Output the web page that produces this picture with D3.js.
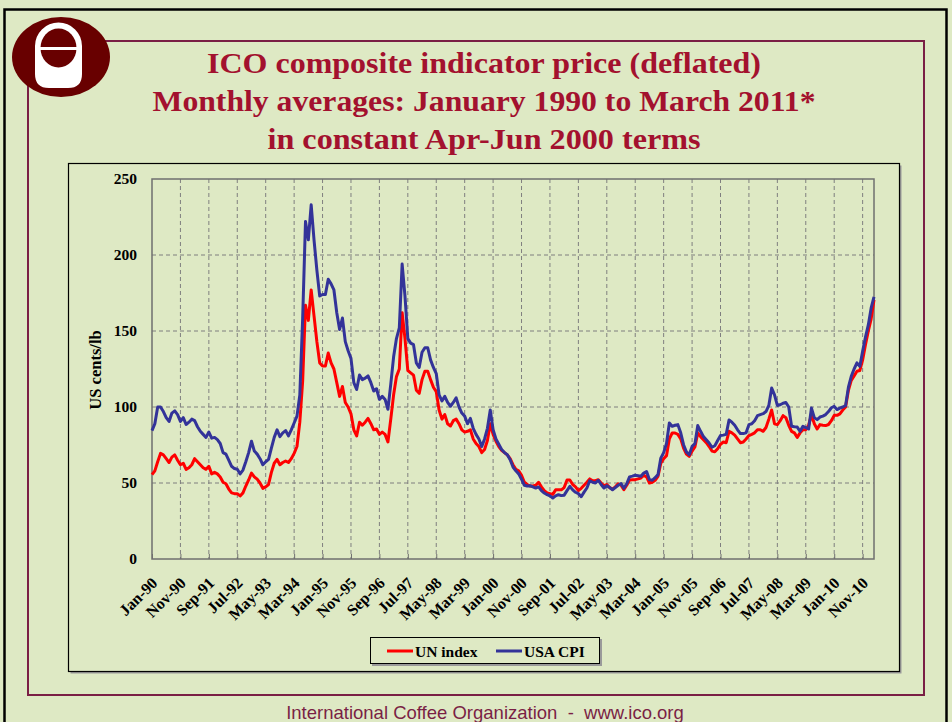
<!DOCTYPE html>
<html lang="en">
<head>
<meta charset="utf-8">
<title>ICO composite indicator price (deflated)</title>
<script src="https://cdn.jsdelivr.net/npm/d3@7"></script>
<style>
  body { margin: 0; background: #dee9c4; }
  svg { display: block; }
</style>
</head>
<body>
<script>
// monthly values, Jan-90 .. Mar-11
var unIndex = [
  55.5, 58, 64, 69.5, 68.5, 66, 63.5, 67, 68.5, 65, 62, 63,
  59, 60, 62, 66, 64, 62, 60, 59, 61, 56, 57, 56,
  54, 50.5, 49.5, 46, 43.5, 43, 43, 41.5, 43.5, 48, 52, 56.5,
  54, 52.5, 50, 46.5, 47.5, 49, 57, 63, 65.5, 62, 63.5, 64.5,
  63.5, 66, 69.5, 74, 90, 117, 167, 157, 177, 160, 143, 129,
  127, 127, 135.5, 129, 125, 116, 107, 113.5, 103, 100, 95.5, 85,
  81, 90, 88, 90, 92.5, 89, 85, 85.5, 82, 83.5, 82, 77,
  92, 108, 120, 125, 162, 145, 124, 122.5, 121, 111, 109, 118,
  123.5, 123.5, 118, 113, 110, 98, 92, 95, 89, 87.5, 91, 92,
  89, 85, 83.5, 84, 85, 79, 76, 74, 70, 72, 78, 89,
  82, 77.5, 74, 71.5, 70, 68.5, 66, 62, 59, 58, 55, 50.5,
  49, 48, 48, 48.5, 50.5, 47.5, 45, 43.5, 43, 42.5, 45.5, 45.5,
  45.5, 47, 52, 52, 49, 47.5, 45, 46.5, 48.5, 50.5, 52.7, 51.5,
  51.5, 52.2, 50, 48.2, 49, 47, 46, 47.5, 49.5, 48.5, 45.6, 48.5,
  52, 52.2, 52.2, 52.7, 53.3, 55, 54, 50, 50.5, 51.8, 54.4, 63,
  66, 68, 79, 82.9, 82.9, 82, 79, 73, 69, 67.5, 71, 73.7,
  83, 80.5, 78.5, 76.5, 74, 71, 70.5, 72.5, 75.5, 77, 76.5, 84,
  83, 81.5, 79, 76.5, 77, 79, 81.2, 82, 83, 85, 85, 84,
  86.5, 92, 98, 89, 88.4, 91, 94.3, 93, 88, 84, 83, 80,
  83, 85, 85, 88, 95, 89, 85.5, 88.4, 88, 87.8, 88.5, 91,
  94.5, 94.5, 95.5, 98, 100, 111, 117.5, 120.5, 123.5, 124, 131, 141,
  150, 158, 170.6
];

var usaCpi = [
  84.5, 89, 100, 100, 97, 93, 90.5, 96, 97.5, 95, 90.5, 93,
  88.5, 90, 92, 91, 87, 84, 82, 80, 83.5, 79.5, 80, 78.5,
  76, 70, 69, 65, 61, 59.5, 59, 56, 58.5, 64, 70, 77.5,
  71, 69, 66, 62, 64, 65.5, 73, 80, 85, 80.5, 83, 84.5,
  81, 85, 89.5, 94, 108, 158, 222, 210, 233, 210, 190, 173,
  174, 174, 184, 181, 177, 162, 151, 158.5, 143, 137, 132, 116,
  111.5, 121, 118, 119, 120.5, 116, 110.5, 112, 105, 107, 105, 98.5,
  115, 133, 145, 152, 194, 173, 145, 142, 141, 129, 126, 136,
  139, 139, 131, 126, 122, 108, 104, 107, 103, 100.5, 103, 106,
  100, 96, 94, 89, 92.5, 86, 82, 79, 74, 79, 86, 98,
  85, 79, 75.5, 72, 70, 68.6, 65.3, 60.5, 58, 56, 52.5, 48.5,
  48, 48.2, 47.5, 46.7, 47.4, 45, 43.4, 42.3, 41.5, 40.1, 41.5, 42.3,
  41.7, 42, 45, 47.8, 45.5, 43.9, 43, 41, 44, 46.7, 51.5, 50.5,
  50, 51.8, 49, 46.7, 48.2, 47, 45.6, 47, 48.5, 49.6, 46.5, 49.5,
  54, 54.5, 55.1, 54.8, 54.4, 56.5, 57.5, 52.2, 51.8, 53.5, 55.5, 66.4,
  70, 76, 89.5, 87.3, 88, 88.4, 83, 75.2, 70.5, 68.6, 74.1, 75.9,
  87.8, 84, 80.5, 78.5, 76.3, 73.5, 74.5, 78, 81.2, 81.5, 82, 91.5,
  90, 88, 85, 82.5, 82.5, 83, 88.4, 89, 91, 94.3, 95, 95.6,
  97, 101, 112.5, 108, 101, 101.5, 102.5, 103, 100, 87.3, 87, 86.8,
  84, 87.3, 86.5, 85.5, 99.3, 93, 91.7, 93.4, 94, 95, 97, 99.5,
  100.4, 98.3, 99.3, 100, 100.9, 113, 120.2, 125, 129, 126.7, 136.6, 146,
  154, 165.2, 172.4
];

var monthNames = ["Jan", "Feb", "Mar", "Apr", "May", "Jun", "Jul", "Aug", "Sep", "Oct", "Nov", "Dec"];
var tickLabels = ["Jan-90", "Nov-90", "Sep-91", "Jul-92", "May-93", "Mar-94", "Jan-95", "Nov-95",
  "Sep-96", "Jul-97", "May-98", "Mar-99", "Jan-00", "Nov-00", "Sep-01", "Jul-02", "May-03",
  "Mar-04", "Jan-05", "Nov-05", "Sep-06", "Jul-07", "May-08", "Mar-09", "Jan-10", "Nov-10"];
var yTicks = [0, 50, 100, 150, 200, 250];
var titleLines = ["ICO composite indicator price (deflated)",
  "Monthly averages: January 1990 to March 2011*",
  "in constant Apr-Jun 2000 terms"];
var seriesNames = ["UN index", "USA CPI"];
var seriesColors = ["#ff0000", "#333399"];

// category labels Jan-90 .. Mar-11
var months = [];
for (var i = 0; i < unIndex.length; i++) {
  var yr = (90 + Math.floor(i / 12)) % 100;
  months.push(monthNames[i % 12] + "-" + (yr < 10 ? "0" + yr : yr));
}

var bg = "#dee9c4";
var maroon = "#7a1f45";
var titleRed = "#a3112e";
var serif = "Liberation Serif, Times New Roman, serif";

var svg = d3.select("body").append("svg")
  .attr("width", 952)
  .attr("height", 722);

svg.append("rect").attr("width", 952).attr("height", 722).attr("fill", bg);

// outer black frame
svg.append("rect")
  .attr("x", 4.5).attr("y", 9.5).attr("width", 942).attr("height", 730)
  .attr("fill", "none").attr("stroke", "#000").attr("stroke-width", 2.5);

// maroon frame
svg.append("rect")
  .attr("x", 28).attr("y", 41).attr("width", 896).attr("height", 654)
  .attr("fill", "none").attr("stroke", maroon).attr("stroke-width", 2);

// logo
var logo = svg.append("g");
logo.append("ellipse").attr("cx", 61).attr("cy", 57).attr("rx", 49).attr("ry", 40).attr("fill", "#680000");
logo.append("path")
  .attr("d", "M35,46 A23.5,23.5 0 0 1 82,46 L82,74 Q82,88 68,88 L49,88 Q35,88 35,74 Z")
  .attr("fill", "#fff");
logo.append("ellipse").attr("cx", 58.5).attr("cy", 48).attr("rx", 18).attr("ry", 19.5).attr("fill", "#680000");
logo.append("rect").attr("x", 40).attr("y", 47).attr("width", 37).attr("height", 3).attr("fill", "#fff");

// title
var titleLens = [554, 663, 433];
svg.append("g").selectAll("text")
  .data(titleLines)
  .enter().append("text")
  .attr("x", 484)
  .attr("y", function(d, i) { return 73 + i * 38; })
  .attr("text-anchor", "middle")
  .attr("textLength", function(d, i) { return titleLens[i]; })
  .attr("lengthAdjust", "spacingAndGlyphs")
  .attr("font-family", serif)
  .attr("font-weight", "bold")
  .attr("font-size", 30)
  .attr("fill", titleRed)
  .text(function(d) { return d; });

// chart area box with shadow
svg.append("rect")
  .attr("x", 70.5).attr("y", 165.5).attr("width", 831).attr("height", 508)
  .attr("fill", "#9a9a9a");
svg.append("rect")
  .attr("x", 68.5).attr("y", 163.5).attr("width", 831).attr("height", 508)
  .attr("fill", bg).attr("stroke", "#000").attr("stroke-width", 1.2);

// plot area
var plotLeft = 152, plotRight = 874, plotTop = 179, plotBottom = 559;

var x = d3.scalePoint().domain(months).range([plotLeft, plotRight]);
var y = d3.scaleLinear().domain([0, 250]).range([plotBottom, plotTop]);

// horizontal gridlines
svg.append("g").selectAll("line")
  .data(yTicks.filter(function(d) { return d > 0 && d < 250; }))
  .enter().append("line")
  .attr("x1", plotLeft).attr("x2", plotRight)
  .attr("y1", function(d) { return y(d); }).attr("y2", function(d) { return y(d); })
  .attr("stroke", "#7f7f7f").attr("stroke-width", 1).attr("stroke-dasharray", "4,3");

// vertical gridlines at the labelled months
svg.append("g").selectAll("line")
  .data(tickLabels.slice(1))
  .enter().append("line")
  .attr("x1", function(d) { return x(d); }).attr("x2", function(d) { return x(d); })
  .attr("y1", plotTop).attr("y2", plotBottom)
  .attr("stroke", "#7f7f7f").attr("stroke-width", 1).attr("stroke-dasharray", "4,3");

// plot border
svg.append("rect")
  .attr("x", plotLeft).attr("y", plotTop)
  .attr("width", plotRight - plotLeft).attr("height", plotBottom - plotTop)
  .attr("fill", "none").attr("stroke", "#6f6f6f").attr("stroke-width", 1.5);

// y axis labels
var yAxis = d3.axisLeft(y).tickValues(yTicks).tickSize(0).tickPadding(15);
var gy = svg.append("g").attr("transform", "translate(" + plotLeft + ",0)").call(yAxis);
gy.select(".domain").remove();
gy.selectAll("text")
  .attr("font-family", serif)
  .attr("font-weight", "bold")
  .attr("font-size", 15.5)
  .attr("fill", "#000");

// x axis labels
var xAxis = d3.axisBottom(x).tickValues(tickLabels).tickSize(5);
var gx = svg.append("g").attr("transform", "translate(0," + plotBottom + ")").call(xAxis);
gx.select(".domain").remove();
gx.selectAll(".tick line").attr("y2", -5).attr("stroke", "#6f6f6f");
gx.selectAll("text")
  .attr("font-family", serif)
  .attr("font-weight", "bold")
  .attr("font-size", 16)
  .attr("fill", "#000")
  .attr("text-anchor", "end")
  .attr("dy", null)
  .attr("y", null)
  .attr("transform", "translate(6,25) rotate(-45)");

// y axis title
svg.append("text")
  .attr("transform", "translate(101,370) rotate(-90)")
  .attr("text-anchor", "middle")
  .attr("font-family", serif)
  .attr("font-weight", "bold")
  .attr("font-size", 16.5)
  .text("US cents/lb");

// lines
var line = d3.line()
  .x(function(d, i) { return x(months[i]); })
  .y(function(d) { return y(d); });

[unIndex, usaCpi].forEach(function(s, k) {
  svg.append("path")
    .datum(s)
    .attr("d", line)
    .attr("fill", "none")
    .attr("stroke", seriesColors[k])
    .attr("stroke-width", 3)
    .attr("stroke-linejoin", "round");
});

// legend
svg.append("rect")
  .attr("x", 372).attr("y", 639).attr("width", 230).attr("height", 27).attr("fill", "#9a9a9a");
svg.append("rect")
  .attr("x", 370.5).attr("y", 637.5).attr("width", 229).attr("height", 26)
  .attr("fill", bg).attr("stroke", "#000").attr("stroke-width", 1);
var legendX = [387, 496];
var lg = svg.append("g").selectAll("g")
  .data(seriesNames)
  .enter().append("g")
  .attr("transform", function(d, i) { return "translate(" + legendX[i] + ",651)"; });
lg.append("line")
  .attr("x1", 0).attr("x2", 26)
  .attr("stroke", function(d, i) { return seriesColors[i]; })
  .attr("stroke-width", 3);
lg.append("text")
  .attr("x", 28).attr("y", 5.5)
  .attr("font-family", serif)
  .attr("font-weight", "bold")
  .attr("font-size", 15.5)
  .text(function(d) { return d; });

// footer
svg.append("text")
  .attr("x", 485).attr("y", 719)
  .attr("text-anchor", "middle")
  .attr("font-family", "Liberation Sans, Arial, sans-serif")
  .attr("font-size", 18.5)
  .attr("fill", maroon)
  .text("International Coffee Organization\u00a0\u00a0-\u00a0\u00a0www.ico.org");
</script>
</body>
</html>
